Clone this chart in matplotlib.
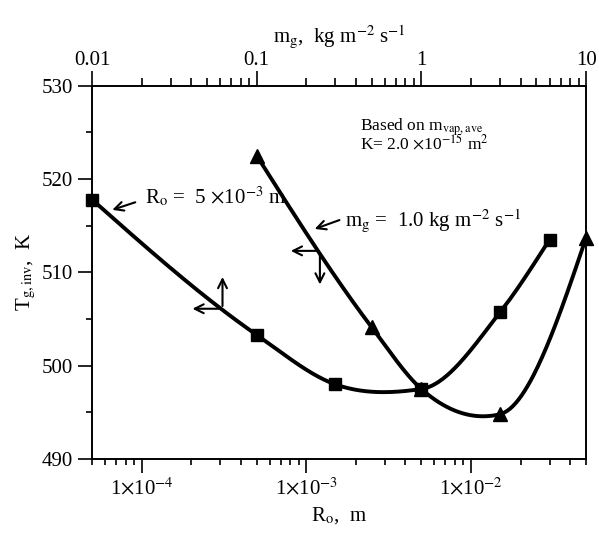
import numpy as np
import matplotlib
matplotlib.use("Agg")
import matplotlib.pyplot as plt
from matplotlib.ticker import FixedLocator, LogLocator, NullFormatter, MultipleLocator

plt.rcParams["font.family"] = ["Liberation Serif", "DejaVu Serif"]
plt.rcParams["mathtext.fontset"] = "stix"

# square series: T vs R_o (bottom axis)
r_o = [5e-5, 5e-4, 1.5e-3, 5e-3, 1.5e-2, 3e-2]
t_ro = [517.8, 503.3, 498.0, 497.5, 505.7, 513.5]

# triangle series: T vs m_g (top axis)
m_g = [0.1, 0.5, 1.0, 3.0, 10.0]
t_mg = [522.5, 504.1, 497.5, 494.8, 513.7]

bottom_ticks = [1e-4, 1e-3, 1e-2]
bottom_labels = [r"1$\times$10$^{-4}$", r"1$\times$10$^{-3}$", r"1$\times$10$^{-2}$"]
top_ticks = [0.01, 0.1, 1, 10]
top_labels = ["0.01", "0.1", "1", "10"]


def smooth(x, y, n=60):
    # Hermite curve through the points, three-point slopes,
    # slopes damped where the curve turns so it doesn't overshoot much
    x = np.asarray(x, float)
    y = np.asarray(y, float)
    h = np.diff(x)
    d = np.diff(y) / h
    m = np.zeros(len(x))
    for i in range(1, len(x) - 1):
        m[i] = (h[i] * d[i - 1] + h[i - 1] * d[i]) / (h[i - 1] + h[i])
        if d[i - 1] * d[i] < 0:
            m[i] *= 0.3
    m[0] = (3 * d[0] - m[1]) / 2
    m[-1] = (3 * d[-1] - m[-2]) / 2
    xs, ys = [], []
    for i in range(len(x) - 1):
        t = np.linspace(0, 1, n)
        h00 = 2 * t ** 3 - 3 * t ** 2 + 1
        h10 = t ** 3 - 2 * t ** 2 + t
        h01 = -2 * t ** 3 + 3 * t ** 2
        h11 = t ** 3 - t ** 2
        xs.append(x[i] + t * h[i])
        ys.append(h00 * y[i] + h10 * h[i] * m[i] + h01 * y[i + 1] + h11 * h[i] * m[i + 1])
    return np.concatenate(xs), np.concatenate(ys)


fig = plt.figure(figsize=(5.99, 5.34), dpi=100)
ax = fig.add_axes([0.1536, 0.1404, 0.8248, 0.6992])

ax.set_xscale("log")
ax.set_xlim(5e-5, 5e-2)
ax.set_ylim(490, 530)

lx, ly = smooth(np.log10(r_o), t_ro)
ax.plot(10 ** lx, ly, color="black", lw=2.8)
ax.plot(r_o, t_ro, ls="none", marker="s", ms=9, color="black", clip_on=False)

ax.xaxis.set_major_locator(FixedLocator(bottom_ticks))
ax.set_xticklabels(bottom_labels)
ax.xaxis.set_minor_locator(LogLocator(base=10, subs=np.arange(2, 10)))
ax.xaxis.set_minor_formatter(NullFormatter())
ax.yaxis.set_major_locator(MultipleLocator(10))
ax.yaxis.set_minor_locator(MultipleLocator(5))
ax.tick_params(which="major", direction="out", length=10, width=1.2, labelsize=15, top=False, right=False)
ax.tick_params(which="minor", direction="out", length=4.5, width=1.2, top=False, right=False)
ax.set_xlabel(r"R$_{\rm o}$,  m", fontsize=15, labelpad=4)
ax.set_ylabel(r"T$_{\rm g,inv}$,  K", fontsize=15, labelpad=3)

ax2 = ax.twiny()
ax2.set_xscale("log")
ax2.set_xlim(0.01, 10)
mx, my = smooth(np.log10(m_g), t_mg)
ax2.plot(10 ** mx, my, color="black", lw=2.8)
ax2.plot(m_g, t_mg, ls="none", marker="^", ms=10, color="black", clip_on=False)
ax2.xaxis.set_major_locator(FixedLocator(top_ticks))
ax2.set_xticklabels(top_labels)
ax2.xaxis.set_minor_locator(LogLocator(base=10, subs=np.arange(2, 10)))
ax2.xaxis.set_minor_formatter(NullFormatter())
ax2.tick_params(which="major", direction="out", length=10.5, width=1.2, labelsize=15, pad=1)
ax2.tick_params(which="minor", direction="out", length=5.5, width=1.2)
ax2.set_xlabel(r"m$_{\rm g}$,  kg m$^{-2}$ s$^{-1}$", fontsize=15, labelpad=6)

for a in (ax, ax2):
    for s in a.spines.values():
        s.set_linewidth(1.2)

arrow = dict(arrowstyle="->", color="black", lw=1.5, mutation_scale=16)

# R_o label and arrow to the first square
ax.annotate("", xy=(6.4e-5, 516.6), xytext=(9.5e-5, 517.6), arrowprops=arrow)
ax.text(1.05e-4, 518.1, r"R$_{\rm o}$ =  5 $\times$10$^{-3}$ m", fontsize=15, va="center", ha="left")

# crosshair on square curve
ax.annotate("", xy=(3.1e-4, 509.8), xytext=(3.1e-4, 506.1), arrowprops=arrow)
ax.annotate("", xy=(1.96e-4, 506.1), xytext=(3.1e-4, 506.1), arrowprops=arrow)

# m_g label and arrow
ax2.annotate("", xy=(0.217, 514.55), xytext=(0.33, 515.7), arrowprops=arrow)
ax2.text(0.345, 515.6, r"m$_{\rm g}$ =  1.0 kg m$^{-2}$ s$^{-1}$", fontsize=15, va="center", ha="left")

# crosshair on triangle curve
ax2.annotate("", xy=(0.155, 512.3), xytext=(0.242, 512.3), arrowprops=arrow)
ax2.annotate("", xy=(0.242, 508.4), xytext=(0.242, 512.3), arrowprops=arrow)

ax.text(0.5425, 0.889, r"Based on m$_{\rm vap,ave}$", transform=ax.transAxes, fontsize=12.5, va="center")
ax.text(0.5425, 0.846, r"K= 2.0 $\times$10$^{-15}$ m$^2$", transform=ax.transAxes, fontsize=12.5, va="center")

fig.savefig("out.png", dpi=100)
